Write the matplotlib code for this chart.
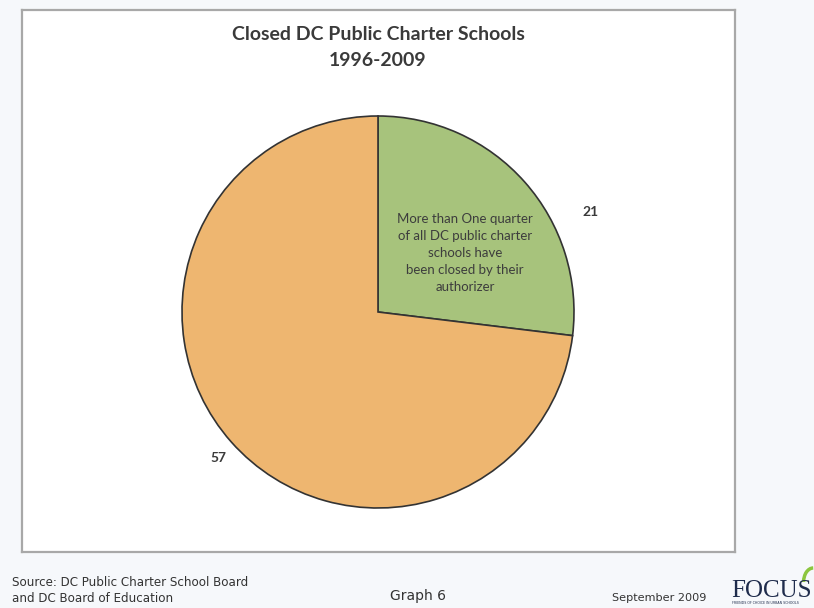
import matplotlib
matplotlib.use("Agg")
import matplotlib.pyplot as plt
from matplotlib.patches import Arc

# ---- data ----
categories = ["Closed", "Open"]
values = [21, 57]
value_labels = ["21", "57"]
title_lines = ["Closed DC Public Charter Schools", "1996-2009"]
note = "More than One quarter\nof all DC public charter\nschools have\nbeen closed by their\nauthorizer"
source = "Source: DC Public Charter School Board\nand DC Board of Education"
graph_label = "Graph 6"
date_label = "September 2009"

W, H = 814, 608
fig = plt.figure(figsize=(W / 100, H / 100), dpi=100)
fig.patch.set_facecolor("#f6f8fb")

def fx(px):
    return px / W

def fy(py):
    return 1 - py / H

# chart frame as a background axes
bg = fig.add_axes([fx(22), fy(552), fx(735) - fx(22), fy(10) - fy(552)], zorder=-5)
bg.set_facecolor("white")
bg.set_xticks([])
bg.set_yticks([])
for s in bg.spines.values():
    s.set_edgecolor("#a8a8a8")
    s.set_linewidth(1.6)

# title
fig.text(fx(378), fy(35), title_lines[0], ha="center", va="center",
         fontsize=14, fontweight="bold", family="Lato", color="#3a3a3a")
fig.text(fx(378), fy(60), title_lines[1], ha="center", va="center",
         fontsize=14, fontweight="bold", family="Lato", color="#3a3a3a")

# pie axes
cx, cy, r = 378, 312, 196
ax = fig.add_axes([fx(cx - r), fy(cy + r), (2 * r) / W, (2 * r) / H], zorder=2)
ax.set_facecolor("none")
ax.pie(values, colors=["#a7c37c", "#eeb670"], startangle=90, counterclock=False,
       radius=1.0, wedgeprops=dict(edgecolor="#333333", linewidth=1.2))
ax.set_xlim(-1, 1)
ax.set_ylim(-1, 1)
ax.axis("off")

ax.text(1.085, 0.51, value_labels[0], ha="center", va="center", fontsize=10,
        fontweight="bold", family="Lato", color="#3a3a3a")
ax.text(-0.816, -0.745, value_labels[1], ha="center", va="center", fontsize=10,
        fontweight="bold", family="Lato", color="#3a3a3a")
ax.text(0.444, 0.30, note, ha="center", va="center", fontsize=9.5,
        family="Lato", color="#3d3d3d", linespacing=1.5)

# footer
fig.text(fx(12), fy(590), source, ha="left", va="center", fontsize=8.6,
         family="DejaVu Sans", color="#333333", linespacing=1.3)
fig.text(fx(418), fy(596), graph_label, ha="center", va="center", fontsize=10,
         family="DejaVu Sans", color="#333333")
fig.text(fx(612), fy(598), date_label, ha="left", va="center", fontsize=8.1,
         family="DejaVu Sans", color="#333333")

# logo
fig.text(fx(731), fy(597), "FOCUS", ha="left", va="baseline", fontsize=18,
         family="Liberation Serif", color="#1f2c4c")
fig.text(fx(732), fy(603), "FRIENDS OF CHOICE IN URBAN SCHOOLS", ha="left",
         va="center", fontsize=2.3, family="DejaVu Sans", color="#1f2c4c")
logo_ax = fig.add_axes([fx(798), fy(586), fx(814) - fx(798), fy(566) - fy(586)])
logo_ax.axis("off")
logo_ax.set_xlim(0, 1)
logo_ax.set_ylim(0, 1)
logo_ax.add_patch(Arc((0.95, 0.2), 1.2, 1.4, theta1=90, theta2=180,
                      color="#8cc63f", linewidth=2.5))

fig.savefig("out.png", dpi=100, facecolor=fig.get_facecolor())
